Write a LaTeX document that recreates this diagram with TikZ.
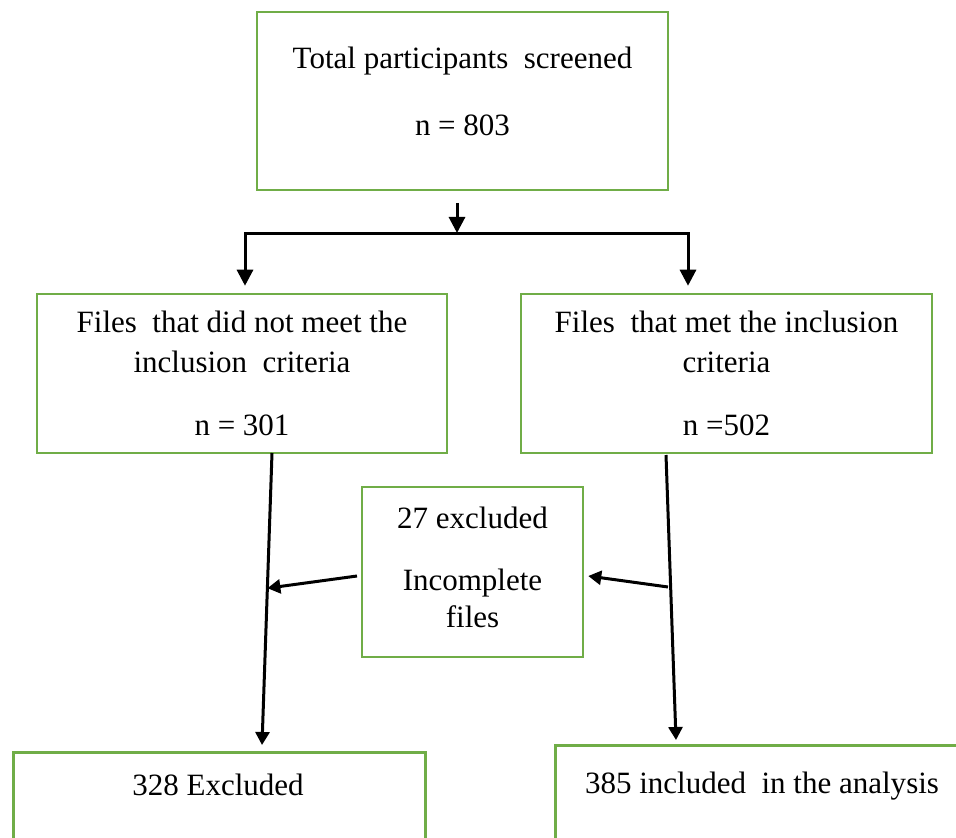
\documentclass[tikz,border=0pt]{standalone}
\usepackage{fontspec}
\setmainfont{Liberation Serif}
\usepackage{xcolor}
\usetikzlibrary{arrows.meta, positioning, calc}
\definecolor{boxgreen}{HTML}{70AD47}
\tikzset{
    box/.style={draw=boxgreen, line width=1.25pt, rectangle, align=center, inner sep=0pt,
        font=\fontsize{15.5}{20}\selectfont},
    bigarrow/.style={line width=1.5pt, -{Triangle[width=8pt,length=8pt]}},
    smallarrow/.style={line width=1.5pt, -{Triangle[width=7pt,length=6.5pt]}}
}

\begin{document}
\begin{tikzpicture}[x=0.5pt, y=-0.5pt]
    \useasboundingbox (0,0) rectangle (956,838);
    \clip (0,0) rectangle (956,838);

    % Screened participants
    \node[box, minimum width=205.5pt, minimum height=89pt] (total) at (462.5,101)
        {Total participants\ \ screened\\[13.5pt] n = 803\\[-10pt]\mbox{}};

    % Split by inclusion criteria
    \node[box, minimum width=205pt, minimum height=79.5pt] (notmet) at (242,373.5)
        {Files\ \ that did not meet the\\ inclusion\ \ criteria\\[11.5pt] n = 301};
    \node[box, minimum width=205.5pt, minimum height=79.5pt] (met) at (726.5,373.5)
        {Files\ \ that met the inclusion\\ criteria\\[11.5pt] n =502};

    % Incomplete files
    \node[box, minimum width=110.5pt, minimum height=85pt] (incomplete) at (472.5,572)
        {27 excluded\\[11pt] Incomplete\\[-1.5pt] files\\[-15pt]\mbox{}};

    % Final groups (cut off at the bottom)
    \node[box, minimum width=206pt, minimum height=80pt, anchor=north west] (excluded) at (12,751) {};
    \node at (218,785) {\fontsize{15.5}{20}\selectfont 328 Excluded};
    \node[box, minimum width=210pt, minimum height=80pt, anchor=north west] (included) at (554,744) {};
    \node at (762,786) {\fontsize{15.5}{20}\selectfont 385 included\ \ in the analysis};

    % Arrows from the top box
    \coordinate (t0) at (457,203);
    \coordinate (t1) at (457,234);
    \coordinate (bl) at (245,234);
    \coordinate (br) at (688,234);
    \draw[bigarrow] (t0) -- ([yshift=0.5pt]t1);
    \draw[line width=1.5pt] (bl) -- (br);
    \draw[bigarrow] ([yshift=0.75pt]bl) -- ([yshift=3.5pt]notmet.north -| bl);
    \draw[bigarrow] ([yshift=0.75pt]br) -- ([yshift=3.5pt]met.north -| br);

    % Down to the final groups
    \coordinate (l1) at (272,453);
    \coordinate (l2) at (262,745);
    \coordinate (r1) at (666,455);
    \coordinate (r2) at (676,740);
    \draw[smallarrow] (l1) -- (l2);
    \draw[smallarrow] (r1) -- (r2);

    % Incomplete files
    \coordinate (m1) at (357,576);
    \coordinate (m2) at (668,587);
    \draw[smallarrow] (m1) -- ($(l1)!0.463!(l2)$);
    \draw[smallarrow] (m2) -- ([xshift=2pt,yshift=-2pt]incomplete.east);
\end{tikzpicture}
\end{document}
